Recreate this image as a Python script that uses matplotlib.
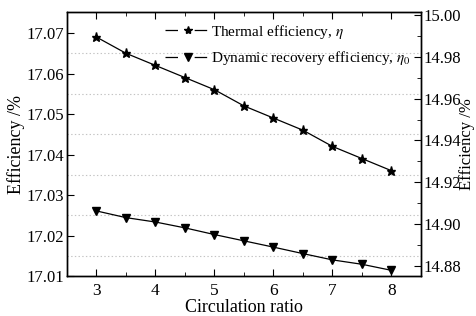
import matplotlib
matplotlib.use("Agg")
import matplotlib.pyplot as plt
from matplotlib.ticker import MultipleLocator, FixedLocator, FormatStrFormatter
from matplotlib.lines import Line2D

plt.rcParams['font.family'] = ['Liberation Serif', 'DejaVu Serif']
plt.rcParams['mathtext.fontset'] = 'stix'
plt.rcParams['lines.scale_dashes'] = False

ratio = [3, 3.5, 4, 4.5, 5, 5.5, 6, 6.5, 7, 7.5, 8]
thermal = [17.069, 17.065, 17.062, 17.059, 17.056, 17.052, 17.049, 17.046, 17.042, 17.039, 17.036]
dynamic = [14.9063, 14.9031, 14.9010, 14.8982, 14.8950, 14.8920, 14.8890, 14.8859, 14.8829, 14.8808, 14.8779]
left_ticks = [17.01, 17.02, 17.03, 17.04, 17.05, 17.06, 17.07]
right_ticks = [14.88, 14.90, 14.92, 14.94, 14.96, 14.98, 15.00]
grid_levels = [17.015, 17.025, 17.035, 17.045, 17.055, 17.065]

fig = plt.figure(figsize=(4.77, 3.16), dpi=100)
x0, x1 = 67, 421
ax = fig.add_axes([x0/477, 1-276/316, (x1-x0)/477, (276-12)/316])
ax2 = ax.twinx()

ax.plot(ratio, thermal, color='black', lw=0.9, marker='*', ms=6.5)
ax2.plot(ratio, dynamic, color='black', lw=0.9, marker='v', ms=5.5)

ax.set_xlim(2.5, 8.5)
ax.set_ylim(17.01, 17.0752)
ax2.set_ylim(14.8752, 15.0014)

ax.xaxis.set_major_locator(MultipleLocator(1))
ax.xaxis.set_minor_locator(MultipleLocator(0.5))
ax.yaxis.set_major_locator(FixedLocator(left_ticks))
ax.yaxis.set_major_formatter(FormatStrFormatter('%.2f'))
ax.yaxis.set_minor_locator(FixedLocator(grid_levels))
ax2.yaxis.set_major_locator(FixedLocator(right_ticks))
ax2.yaxis.set_major_formatter(FormatStrFormatter('%.2f'))
ax2.yaxis.set_minor_locator(MultipleLocator(0.01))

ax.grid(axis='y', which='minor', color='#c4c4c4', linestyle=':', lw=0.8)
ax.tick_params(axis='x', which='both', direction='in', top=True, labelsize=12.5, pad=5)
ax.tick_params(axis='x', which='major', length=5)
ax.tick_params(axis='x', which='minor', length=3)
ax.tick_params(axis='y', which='major', direction='in', length=5, labelsize=12, pad=2)
ax.tick_params(axis='y', which='minor', length=0)
ax2.tick_params(axis='y', which='major', direction='in', length=5, labelsize=12, pad=1.5)
ax2.tick_params(axis='y', which='minor', direction='in', length=3)

for a in (ax, ax2):
    for s in a.spines.values():
        s.set_linewidth(1.0)

ax.set_xlabel('Circulation ratio', fontsize=13, labelpad=0)
ax.set_ylabel('Efficiency /%', fontsize=13, labelpad=1)
ax2.set_ylabel('Efficiency /%', fontsize=12, rotation=90)
ax2.yaxis.set_label_coords((459 - x0)/(x1 - x0), 0.5)

h1 = Line2D([], [], color='black', lw=0.9, marker='*', ms=6, linestyle=(0, (9, 12)))
h2 = Line2D([], [], color='black', lw=0.9, marker='v', ms=6, linestyle=(0, (9, 12)))
ax.legend([h1, h2], [r'Thermal efficiency, $\eta$', r'Dynamic recovery efficiency, $\eta_0$'],
          loc='upper right', bbox_to_anchor=(1.0, 1.0), frameon=False, fontsize=11,
          handlelength=3.0, handletextpad=0.0, labelspacing=0.55, borderaxespad=0.3)

fig.savefig('out.png', dpi=100)
